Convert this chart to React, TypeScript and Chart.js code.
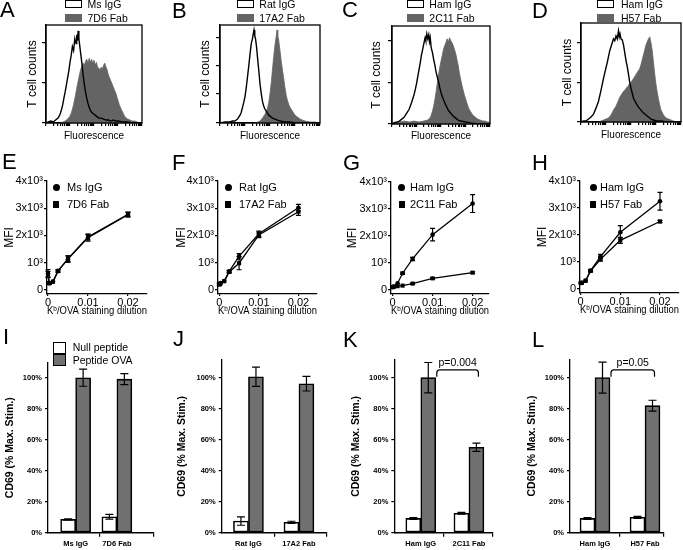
import React, { useEffect, useRef } from 'react';
import { Chart, registerables } from 'chart.js';

Chart.register(...registerables);

const FONT = "'Liberation Sans', Arial, Helvetica, sans-serif";
Chart.defaults.font.family = FONT;
Chart.defaults.color = '#000';

const HIST_GRAY = '#646464';
const BAR_GRAY = '#707070';

// ---------- names / labels ----------
const controlNames = ['Ms IgG', 'Rat IgG', 'Ham IgG', 'Ham IgG'];
const fabNames = ['7D6 Fab', '17A2 Fab', '2C11 Fab', 'H57 Fab'];
const peptideNames = ['Null peptide', 'Peptide OVA'];
const panelLetters = [['A', 'B', 'C', 'D'], ['E', 'F', 'G', 'H'], ['I', 'J', 'K', 'L']];
const histXTitle = 'Fluorescence';
const histYTitle = 'T cell counts';
const mfiXTitle = 'Kᵇ/OVA staining dilution';
const mfiYTitle = 'MFI';
const cd69YTitle = 'CD69 (% Max. Stim.)';
const mfiTickValues = [0, 1000, 2000, 3000, 4000];
const mfiTickLabels = ['0', '10³', '2x10³', '3x10³', '4x10³'];
const dilutionTickValues = [0, 0.01, 0.02];
const dilutionTickLabels = ['0', '0.01', '0.02'];
const pctTickValues = [0, 20, 40, 60, 80, 100];
const pctTickLabels = ['0%', '20%', '40%', '60%', '80%', '100%'];
const pValueLabels = ['', '', 'p=0.004', 'p=0.05'];

// ---------- histogram data: [log10 fluorescence, % of max counts] ----------
const histA_ms: number[][] = [[0,0],[0.1,1],[0.2,2],[0.3,1],[0.4,3],[0.5,5],[0.55,7],[0.6,10],[0.65,14],[0.7,19],[0.75,26],[0.8,32],[0.85,39],[0.9,46],[0.95,53],[1.0,62],[1.05,69],[1.1,78],[1.15,74],[1.2,86],[1.25,81],[1.28,90],[1.31,84],[1.34,94],[1.37,86],[1.4,80],[1.45,70],[1.5,60],[1.55,48],[1.6,39],[1.65,31],[1.7,25],[1.75,20],[1.8,16],[1.85,13],[1.9,11],[2.0,9],[2.1,7],[2.2,5],[2.3,5],[2.4,4],[2.5,3],[2.6,3],[2.7,2],[2.8,3],[2.9,2],[3.0,2],[3.2,1],[3.4,1],[3.6,0],[4,0]];
const histA_7d6: number[][] = [[0.6,0],[0.7,1],[0.8,2],[0.9,4],[1.0,7],[1.05,10],[1.1,14],[1.15,19],[1.2,25],[1.25,31],[1.3,38],[1.35,44],[1.4,50],[1.45,55],[1.5,58],[1.55,61],[1.6,59],[1.65,63],[1.7,65],[1.75,61],[1.8,66],[1.85,62],[1.9,65],[1.95,61],[2.0,64],[2.05,59],[2.1,62],[2.15,57],[2.2,56],[2.25,54],[2.3,57],[2.35,55],[2.4,59],[2.45,61],[2.5,57],[2.55,54],[2.6,49],[2.65,46],[2.7,43],[2.75,40],[2.8,37],[2.85,34],[2.9,31],[2.95,27],[3.0,23],[3.05,19],[3.1,16],[3.15,13],[3.2,11],[3.25,8],[3.3,6],[3.35,5],[3.4,4],[3.5,3],[3.6,2],[3.7,2],[3.8,1],[3.9,0]];
const histB_rat: number[][] = [[0,0],[0.2,1],[0.4,1],[0.5,2],[0.6,2],[0.65,3],[0.7,4],[0.75,6],[0.8,8],[0.85,11],[0.9,16],[0.95,21],[1.0,27],[1.05,36],[1.1,47],[1.15,58],[1.2,70],[1.25,81],[1.3,86],[1.33,91],[1.36,95],[1.39,89],[1.42,86],[1.46,78],[1.5,67],[1.55,54],[1.6,40],[1.65,30],[1.7,22],[1.75,17],[1.8,14],[1.85,12],[1.9,10],[1.95,8],[2.0,7],[2.1,5],[2.2,4],[2.3,3],[2.4,2],[2.6,1],[2.8,1],[3.0,0],[4,0]];
const histB_17a2: number[][] = [[1.4,0],[1.5,1],[1.6,2],[1.7,5],[1.75,7],[1.8,9],[1.85,12],[1.9,15],[1.95,21],[2.0,30],[2.05,41],[2.1,55],[2.15,68],[2.2,80],[2.24,87],[2.28,95],[2.31,89],[2.34,86],[2.37,80],[2.41,72],[2.45,63],[2.5,54],[2.55,45],[2.6,36],[2.65,28],[2.7,23],[2.75,19],[2.8,16],[2.85,14],[2.9,12],[3.0,8],[3.1,6],[3.2,4],[3.3,3],[3.4,2],[3.6,1],[3.8,1],[4,0]];
const histC_ham: number[][] = [[0,0],[0.1,1],[0.2,2],[0.3,3],[0.4,5],[0.5,7],[0.6,11],[0.7,15],[0.8,22],[0.9,30],[0.95,35],[1.0,41],[1.05,48],[1.1,55],[1.15,62],[1.2,70],[1.25,76],[1.3,82],[1.35,88],[1.38,85],[1.42,92],[1.46,87],[1.5,91],[1.53,84],[1.56,88],[1.6,78],[1.65,73],[1.7,66],[1.75,60],[1.8,53],[1.85,48],[1.9,43],[1.95,37],[2.0,32],[2.05,28],[2.1,25],[2.15,22],[2.2,19],[2.3,14],[2.4,11],[2.5,8],[2.6,6],[2.7,4],[2.8,3],[3.0,2],[3.2,1],[3.5,0],[4,0]];
const histC_2c11: number[][] = [[0,1],[0.1,2],[0.3,2],[0.5,3],[0.7,2],[0.9,3],[1.1,2],[1.3,3],[1.45,4],[1.5,5],[1.55,6],[1.6,9],[1.65,13],[1.7,18],[1.75,25],[1.8,33],[1.85,42],[1.9,50],[1.95,58],[2.0,64],[2.05,70],[2.1,76],[2.15,80],[2.2,83],[2.25,87],[2.3,84],[2.35,88],[2.4,85],[2.45,83],[2.5,80],[2.55,76],[2.6,72],[2.65,66],[2.7,60],[2.75,52],[2.8,46],[2.85,40],[2.9,35],[2.95,30],[3.0,26],[3.05,22],[3.1,18],[3.15,15],[3.2,13],[3.3,9],[3.4,7],[3.5,5],[3.6,4],[3.7,3],[3.8,3],[3.9,2],[4,2]];
const histD_ham: number[][] = [[0,0],[0.1,1],[0.2,1],[0.3,3],[0.4,5],[0.5,8],[0.6,14],[0.7,21],[0.8,32],[0.9,44],[1.0,55],[1.05,60],[1.1,66],[1.15,72],[1.2,76],[1.25,80],[1.3,84],[1.35,82],[1.4,87],[1.45,84],[1.5,92],[1.53,86],[1.56,89],[1.6,84],[1.65,83],[1.7,78],[1.75,70],[1.8,62],[1.85,56],[1.9,48],[1.95,40],[2.0,34],[2.05,29],[2.1,24],[2.2,19],[2.3,15],[2.4,12],[2.5,9],[2.6,7],[2.7,5],[2.8,3],[2.9,2],[3.0,1],[3.2,1],[3.4,0],[4,0]];
const histD_h57: number[][] = [[0.7,0],[0.8,1],[0.9,2],[1.0,3],[1.1,4],[1.2,7],[1.3,12],[1.4,16],[1.5,22],[1.55,25],[1.6,27],[1.65,29],[1.7,31],[1.75,32],[1.8,34],[1.85,35],[1.9,37],[1.95,39],[2.0,40],[2.05,42],[2.1,44],[2.15,46],[2.2,48],[2.25,50],[2.3,52],[2.35,54],[2.4,58],[2.45,63],[2.5,68],[2.55,73],[2.6,78],[2.65,81],[2.7,84],[2.75,86],[2.8,80],[2.85,72],[2.9,60],[2.95,48],[3.0,38],[3.05,30],[3.1,23],[3.15,17],[3.2,12],[3.3,7],[3.4,4],[3.5,3],[3.6,2],[3.7,1],[3.8,0]];
const histControl = [histA_ms, histB_rat, histC_ham, histD_ham];
const histFab = [histA_7d6, histB_17a2, histC_2c11, histD_h57];
const fluorDecades = 4;

// ---------- MFI titration data ----------
const dilution = [0, 0.0003125, 0.00125, 0.0025, 0.005, 0.01, 0.02];
const mfiE_ms = [600, 250, 310, 700, 1130, 1920, 2760];
const mfiE_msErr = [150, 50, 0, 50, 120, 130, 90];
const mfiE_7d6 = [580, 240, 300, 690, 1150, 1940, 2780];
const mfiE_7d6Err = [100, 40, 0, 40, 100, 100, 80];
const mfiF_rat = [220, 250, 330, 680, 1230, 2060, 3020];
const mfiF_ratErr = [40, 0, 0, 40, 100, 100, 120];
const mfiF_17a2 = [200, 240, 320, 660, 980, 2020, 2870];
const mfiF_17a2Err = [40, 0, 0, 40, 240, 100, 130];
const mfiG_ham = [110, 130, 250, 620, 1150, 2050, 3200];
const mfiG_hamErr = [0, 0, 0, 40, 60, 230, 330];
const mfiG_2c11 = [100, 120, 140, 160, 235, 430, 640];
const mfiG_2c11Err = [0, 0, 0, 0, 20, 30, 30];
const mfiH_ham = [220, 230, 310, 680, 1200, 2100, 3250];
const mfiH_hamErr = [0, 0, 0, 40, 80, 250, 330];
const mfiH_h57 = [220, 230, 300, 670, 1100, 1800, 2500];
const mfiH_h57Err = [0, 0, 0, 40, 70, 110, 40];
const mfiControl = [mfiE_ms, mfiF_rat, mfiG_ham, mfiH_ham];
const mfiControlErr = [mfiE_msErr, mfiF_ratErr, mfiG_hamErr, mfiH_hamErr];
const mfiFab = [mfiE_7d6, mfiF_17a2, mfiG_2c11, mfiH_h57];
const mfiFabErr = [mfiE_7d6Err, mfiF_17a2Err, mfiG_2c11Err, mfiH_h57Err];

// ---------- CD69 data (% max stim) ----------
const cd69I_null = [8.6, 10.3];
const cd69I_nullErr = [0.3, 1.5];
const cd69I_ova = [100, 99.1];
const cd69I_ovaErr = [5.5, 3.5];
const cd69J_null = [7.5, 6.7];
const cd69J_nullErr = [2.7, 0.7];
const cd69J_ova = [100.6, 96.1];
const cd69J_ovaErr = [6.2, 4.7];
const cd69K_null = [9.2, 12.5];
const cd69K_nullErr = [0.6, 0.6];
const cd69K_ova = [100, 55.1];
const cd69K_ovaErr = [9.8, 2.7];
const cd69L_null = [9.2, 9.9];
const cd69L_nullErr = [0.6, 0.6];
const cd69L_ova = [100, 81.9];
const cd69L_ovaErr = [10, 3.5];
const cd69Null = [cd69I_null, cd69J_null, cd69K_null, cd69L_null];
const cd69NullErr = [cd69I_nullErr, cd69J_nullErr, cd69K_nullErr, cd69L_nullErr];
const cd69Ova = [cd69I_ova, cd69J_ova, cd69K_ova, cd69L_ova];
const cd69OvaErr = [cd69I_ovaErr, cd69J_ovaErr, cd69K_ovaErr, cd69L_ovaErr];

// ---------- layout (geometry only) ----------
type Cell = { x: number; y: number; w: number; h: number };
type Area = { l: number; t: number; r: number; b: number };
const colX = [0, 170, 340, 510, 683];
const rowY = [0, 150, 325, 550];
const cellOf = (r: number, c: number): Cell => ({ x: colX[c], y: rowY[r], w: colX[c + 1] - colX[c], h: rowY[r + 1] - rowY[r] });

const histAreas: Area[] = [
  { l: 46, t: 25, r: 142, b: 123 },
  { l: 220, t: 25, r: 320, b: 123 },
  { l: 392, t: 26, r: 490, b: 124 },
  { l: 581, t: 23, r: 681, b: 122 },
];
const histYTitleX = [32.5, 206, 376.7, 568];
const histXTitleY = [136, 136, 136, 135];
const histYTickPos = [[0, 40.8, 81.6], [0, 29.6, 58.2, 86.7], [0, 41.8, 84.7], [0, 39.4, 79.8]];

const mfiAreas: Area[] = [
  { l: 47, t: 181, r: 147, b: 294 },
  { l: 218, t: 181, r: 317, b: 294 },
  { l: 391, t: 182, r: 489, b: 294 },
  { l: 580, t: 181, r: 681, b: 293 },
];
const mfiXRange = [[-0.00025, 0.02475], [-0.00033, 0.0247], [-0.0004, 0.0241], [-0.00017, 0.0248]];
const mfiYTitleX = [10, 181.7, 353, 543];
const mfiXTitleY = [311, 311, 311, 310];

const barAreas: Area[] = [
  { l: 48, t: 362.7, r: 154, b: 532.7 },
  { l: 221.7, t: 360, r: 326.7, b: 532.7 },
  { l: 394.3, t: 360, r: 493, b: 532.7 },
  { l: 570, t: 359.3, r: 664, b: 532.7 },
];
const barYMax = [109.7, 111.4, 111.4, 111.8];
const barXRange = [[-0.67, 1.9], [-0.53, 1.55], [-0.55, 1.5], [-0.5, 1.38]];
const barMidTick = [0.59, 0.51, 0.48, 0.5];
const barYTitleX = [10.5, 182.5, 356.2, 531.7];

const letterPos = [
  [[0, 2], [172, 3], [342, 2], [532, 3]],
  [[2, 154], [172, 155], [343, 155], [532, 155]],
  [[3, 329], [173, 331], [343, 332], [532, 332]],
];

// ---------- helpers ----------
function makeLayout(cell: Cell, area: Area, yTitleCenter: number, yTitleLH: number, xBottom: number) {
  const yLeft = yTitleCenter - yTitleLH / 2;
  return {
    padding: { left: yLeft - cell.x, top: area.t - cell.y, right: cell.x + cell.w - area.r, bottom: cell.y + cell.h - xBottom },
    yw: area.l - yLeft,
    xh: xBottom - area.b,
  };
}
const fixSize = (axis: 'x' | 'y', size: number) => (s: any) => {
  if (axis === 'x') s.height = size; else s.width = size;
  s.paddingLeft = 0; s.paddingRight = 0; s.paddingTop = 0; s.paddingBottom = 0;
};
const setTicks = (vals: number[]) => (s: any) => { s.ticks = vals.map((v) => ({ value: v })); };

const framePlugin = {
  id: 'frame',
  afterDatasetsDraw(chart: any) {
    const { ctx, chartArea: a } = chart;
    ctx.save();
    ctx.strokeStyle = '#000';
    ctx.lineWidth = 1.3;
    ctx.strokeRect(a.left, a.top, a.right - a.left, a.bottom - a.top);
    ctx.restore();
  },
};

const errorBarPlugin = {
  id: 'errorBars',
  afterDatasetsDraw(chart: any) {
    const o = chart.options.plugins.errorBars || {};
    const cap = o.cap ?? 2.5;
    const { ctx } = chart;
    const yScale = chart.scales.y;
    ctx.save();
    ctx.strokeStyle = '#000';
    ctx.lineWidth = o.lineWidth ?? 1.2;
    chart.data.datasets.forEach((ds: any, di: number) => {
      const errs: number[] | undefined = ds.errors;
      if (!errs) return;
      const meta = chart.getDatasetMeta(di);
      meta.data.forEach((el: any, i: number) => {
        const e = errs[i];
        if (!e) return;
        const raw = ds.data[i];
        const v = typeof raw === 'number' ? raw : raw.y;
        const x = el.x;
        const yt = yScale.getPixelForValue(v + e);
        const yb = yScale.getPixelForValue(v - e);
        ctx.beginPath();
        ctx.moveTo(x, yt); ctx.lineTo(x, yb);
        ctx.moveTo(x - cap, yt); ctx.lineTo(x + cap, yt);
        ctx.moveTo(x - cap, yb); ctx.lineTo(x + cap, yb);
        ctx.stroke();
      });
    });
    ctx.restore();
  },
};

const bracketPlugin = {
  id: 'bracket',
  afterDatasetsDraw(chart: any) {
    const o = chart.options.plugins.bracket;
    if (!o || !o.text) return;
    const { ctx } = chart;
    const meta = chart.getDatasetMeta(1);
    const b0 = meta.data[0];
    const b1 = meta.data[1];
    const y = chart.scales.y;
    const x1 = b0.x + b0.width / 2 + 1;
    const x2 = b1.x + 2;
    const yt = y.getPixelForValue(o.top);
    const yb = y.getPixelForValue(o.end);
    const r = 3;
    ctx.save();
    ctx.strokeStyle = '#000';
    ctx.lineWidth = 1.2;
    ctx.beginPath();
    ctx.moveTo(x1, yb);
    ctx.lineTo(x1, yt + r);
    ctx.quadraticCurveTo(x1, yt, x1 + r, yt);
    ctx.lineTo(x2 - r, yt);
    ctx.quadraticCurveTo(x2, yt, x2, yt + r);
    ctx.lineTo(x2, yb);
    ctx.stroke();
    ctx.fillStyle = '#000';
    ctx.font = `10.5px ${FONT}`;
    ctx.textAlign = 'center';
    ctx.textBaseline = 'middle';
    ctx.fillText(o.text, (x1 + x2) / 2, y.getPixelForValue(o.textY));
    ctx.restore();
  },
};

const blackAxis = (tickLength: number) => ({
  border: { display: true, color: '#000', width: 1.3 },
  grid: { drawOnChartArea: false, drawTicks: true, tickLength, color: '#000', lineWidth: 1.2 },
});

function histConfig(i: number) {
  const cell = cellOf(0, i);
  const area = histAreas[i];
  const yTS = 12, xTS = 10;
  const L = makeLayout(cell, area, histYTitleX[i], yTS * 1.2, histXTitleY[i] + xTS * 0.6);
  const fluorTicks: number[] = [];
  for (let d = 0; d < fluorDecades; d++) for (let k = 1; k <= 9; k++) fluorTicks.push(d + Math.log10(k));
  fluorTicks.push(fluorDecades);
  return {
    type: 'line',
    data: {
      datasets: [
        { label: controlNames[i], data: histControl[i].map(([x, y]) => ({ x, y })), borderColor: '#000', borderWidth: 1.4, pointRadius: 0, fill: false, tension: 0 },
        { label: fabNames[i], data: histFab[i].map(([x, y]) => ({ x, y })), borderColor: HIST_GRAY, backgroundColor: HIST_GRAY, borderWidth: 0.8, pointRadius: 0, fill: 'origin', tension: 0 },
      ],
    },
    options: {
      animation: false, responsive: false, devicePixelRatio: 1, events: [],
      layout: { padding: L.padding },
      plugins: { legend: { display: false }, tooltip: { enabled: false } },
      scales: {
        x: {
          type: 'linear', min: 0, max: fluorDecades,
          afterBuildTicks: setTicks(fluorTicks), afterFit: fixSize('x', L.xh),
          ticks: { callback: () => '', autoSkip: false, maxRotation: 0, minRotation: 0, padding: 0 },
          ...blackAxis(3),
          title: { display: true, text: histXTitle, font: { size: xTS }, padding: 0, color: '#000' },
        },
        y: {
          type: 'linear', min: 0, max: 100,
          afterBuildTicks: setTicks(histYTickPos[i]), afterFit: fixSize('y', L.yw),
          ticks: { callback: () => '', autoSkip: false, padding: 0 },
          ...blackAxis(4),
          title: { display: true, text: histYTitle, font: { size: yTS }, padding: 0, color: '#000' },
        },
      },
    },
    plugins: [framePlugin],
  };
}

function mfiConfig(i: number) {
  const cell = cellOf(1, i);
  const area = mfiAreas[i];
  const yTS = 12, xTS = 11.5;
  const L = makeLayout(cell, area, mfiYTitleX[i], yTS * 1.2, mfiXTitleY[i] + xTS * 0.6);
  const mk = (vals: number[]) => dilution.map((x, j) => ({ x, y: vals[j] }));
  return {
    type: 'line',
    data: {
      datasets: [
        { label: controlNames[i], data: mk(mfiControl[i]), errors: mfiControlErr[i], borderColor: '#000', borderWidth: 1.3, pointStyle: 'circle', pointRadius: 2.3, pointBackgroundColor: '#000', pointBorderColor: '#000', pointBorderWidth: 0, fill: false, tension: 0, clip: false },
        { label: fabNames[i], data: mk(mfiFab[i]), errors: mfiFabErr[i], borderColor: '#000', borderWidth: 1.3, pointStyle: 'rect', pointRadius: 2.9, pointBackgroundColor: '#000', pointBorderColor: '#000', pointBorderWidth: 0, fill: false, tension: 0, clip: false },
      ],
    },
    options: {
      animation: false, responsive: false, devicePixelRatio: 1, events: [],
      layout: { padding: L.padding },
      plugins: { legend: { display: false }, tooltip: { enabled: false }, errorBars: { cap: 2.5, lineWidth: 1.2 } },
      scales: {
        x: {
          type: 'linear', min: mfiXRange[i][0], max: mfiXRange[i][1],
          afterBuildTicks: setTicks(dilutionTickValues), afterFit: fixSize('x', L.xh),
          ticks: { callback: (_v: any, j: number) => dilutionTickLabels[j], autoSkip: false, maxRotation: 0, minRotation: 0, padding: 0, font: { size: 11 } },
          ...blackAxis(2),
          title: { display: true, text: mfiXTitle, font: { size: xTS }, padding: 0, color: '#000' },
        },
        y: {
          type: 'linear', min: -150, max: 4000,
          afterBuildTicks: setTicks(mfiTickValues), afterFit: fixSize('y', L.yw),
          ticks: { callback: (_v: any, j: number) => mfiTickLabels[j], autoSkip: false, padding: 1, font: { size: 11 } },
          ...blackAxis(3),
          title: { display: true, text: mfiYTitle, font: { size: yTS }, padding: 0, color: '#000' },
        },
      },
    },
    plugins: [errorBarPlugin],
  };
}

function barConfig(i: number) {
  const cell = cellOf(2, i);
  const area = barAreas[i];
  const yTS = 10.5;
  const L = makeLayout(cell, area, barYTitleX[i], yTS * 1.2, area.b + 16);
  const [xmin, xmax] = barXRange[i];
  const xTicks = [0, barMidTick[i], 1, xmax];
  const cats = [controlNames[i], fabNames[i]];
  const mk = (vals: number[]) => vals.map((y, j) => ({ x: j, y }));
  return {
    type: 'bar',
    data: {
      datasets: [
        { label: peptideNames[0], data: mk(cd69Null[i]), errors: cd69NullErr[i], backgroundColor: '#fff', borderColor: '#000', borderWidth: 1.6, borderSkipped: false, barThickness: 15 },
        { label: peptideNames[1], data: mk(cd69Ova[i]), errors: cd69OvaErr[i], backgroundColor: BAR_GRAY, borderColor: '#000', borderWidth: 1.6, borderSkipped: false, barThickness: 15 },
      ],
    },
    options: {
      animation: false, responsive: false, devicePixelRatio: 1, events: [],
      layout: { padding: L.padding },
      plugins: {
        legend: { display: false }, tooltip: { enabled: false },
        errorBars: { cap: 4, lineWidth: 1.2 },
        bracket: { text: pValueLabels[i], top: 105, end: 100.6, textY: 109.5 },
      },
      scales: {
        x: {
          type: 'linear', offset: false, min: xmin, max: xmax,
          afterBuildTicks: setTicks(xTicks), afterFit: fixSize('x', L.xh),
          ticks: { callback: (v: number) => (v === 0 ? cats[0] : v === 1 ? cats[1] : ''), autoSkip: false, maxRotation: 0, minRotation: 0, padding: 3, font: { size: 7.5, weight: 'bold' } },
          border: { display: true, color: '#000', width: 1.4 },
          grid: {
            offset: false, drawOnChartArea: false, drawTicks: true, tickLength: 4, color: '#000', lineWidth: 1.2,
            tickColor: (c: any) => (c.tick && (c.tick.value === 0 || c.tick.value === 1) ? 'rgba(0,0,0,0)' : '#000'),
          },
        },
        y: {
          type: 'linear', min: 0, max: barYMax[i],
          afterBuildTicks: setTicks(pctTickValues), afterFit: fixSize('y', L.yw),
          ticks: { callback: (_v: any, j: number) => pctTickLabels[j], autoSkip: false, padding: 3, font: { size: 7.5, weight: 'bold' } },
          ...blackAxis(3),
          title: { display: true, text: cd69YTitle, font: { size: yTS, weight: 'bold' }, padding: 0, color: '#000' },
        },
      },
    },
    plugins: [errorBarPlugin, bracketPlugin],
  };
}

// ---------- components ----------
function ChartCanvas({ cell, build }: { cell: Cell; build: () => any }) {
  const ref = useRef<HTMLCanvasElement | null>(null);
  useEffect(() => {
    if (!ref.current) return;
    const chart = new Chart(ref.current, build());
    return () => chart.destroy();
  }, []);
  return (
    <canvas ref={ref} width={cell.w} height={cell.h}
      style={{ position: 'absolute', left: cell.x, top: cell.y, width: cell.w, height: cell.h }} />
  );
}

function Txt({ x, cy, size, text, weight }: { x: number; cy: number; size: number; text: string; weight?: string }) {
  return (
    <div style={{ position: 'absolute', left: x, top: cy - size * 0.59, fontSize: size, lineHeight: `${size * 1.2}px`, whiteSpace: 'nowrap', fontWeight: weight || 'normal', color: '#000' }}>
      {text}
    </div>
  );
}

function Box({ x, y, w, h, fill, border }: { x: number; y: number; w: number; h: number; fill: string; border: boolean }) {
  return <div style={{ position: 'absolute', left: x, top: y, width: w, height: h, background: fill, boxSizing: 'border-box', border: border ? '1.3px solid #000' : 'none' }} />;
}

const histLegendBoxX = [64.5, 236.7, 406.7, 597.3];
const histLegendTextX = [87.5, 259.3, 429.3, 621];
const mfiLegendMarkX = [56, 228.3, 401.7, 593.3];
const mfiLegendTextX = [67, 239, 410, 600];

export default function App() {
  return (
    <div style={{ position: 'absolute', left: 0, top: 0, width: 683, height: 550, background: '#fff', overflow: 'hidden', fontFamily: FONT }}>
      {[0, 1, 2, 3].map((i) => <ChartCanvas key={'h' + i} cell={cellOf(0, i)} build={() => histConfig(i)} />)}
      {[0, 1, 2, 3].map((i) => <ChartCanvas key={'m' + i} cell={cellOf(1, i)} build={() => mfiConfig(i)} />)}
      {[0, 1, 2, 3].map((i) => <ChartCanvas key={'b' + i} cell={cellOf(2, i)} build={() => barConfig(i)} />)}

      {/* histogram legends */}
      {[0, 1, 2, 3].map((i) => (
        <React.Fragment key={'hl' + i}>
          <Box x={histLegendBoxX[i]} y={0} w={17} h={8} fill="#fff" border={true} />
          <Box x={histLegendBoxX[i]} y={14} w={17} h={8} fill={HIST_GRAY} border={false} />
          <Txt x={histLegendTextX[i]} cy={4} size={10.5} text={controlNames[i]} />
          <Txt x={histLegendTextX[i]} cy={18} size={10.5} text={fabNames[i]} />
        </React.Fragment>
      ))}

      {/* MFI legends */}
      {[0, 1, 2, 3].map((i) => (
        <React.Fragment key={'ml' + i}>
          <div style={{ position: 'absolute', left: mfiLegendMarkX[i] - 3.5, top: 187.5 - 3.5, width: 7, height: 7, borderRadius: '50%', background: '#000' }} />
          <div style={{ position: 'absolute', left: mfiLegendMarkX[i] - 3.2, top: 204.5 - 3.2, width: 6.4, height: 6.4, background: '#000' }} />
          <Txt x={mfiLegendTextX[i]} cy={187.5} size={11} text={controlNames[i]} />
          <Txt x={mfiLegendTextX[i]} cy={204.5} size={11} text={fabNames[i]} />
        </React.Fragment>
      ))}

      {/* CD69 legend (panel I) */}
      <Box x={53.3} y={341.5} w={12.3} h={12.3} fill="#fff" border={true} />
      <Box x={53.3} y={353.8} w={12.3} h={12.3} fill={BAR_GRAY} border={true} />
      <Txt x={72.7} cy={347.5} size={10.5} text={peptideNames[0]} />
      <Txt x={72.7} cy={360} size={10.5} text={peptideNames[1]} />

      {/* panel letters */}
      {panelLetters.map((row, r) => row.map((ltr, c) => (
        <div key={ltr} style={{ position: 'absolute', left: letterPos[r][c][0], top: letterPos[r][c][1] - 2.87, fontSize: 22, lineHeight: '22px', color: '#000' }}>{ltr}</div>
      )))}
    </div>
  );
}
